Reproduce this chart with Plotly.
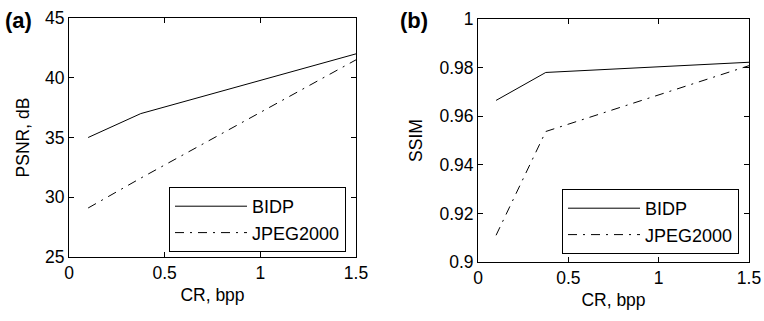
import plotly.graph_objects as go

cr = [0.1, 0.375, 1.5]
psnr_bidp = [35.0, 37.0, 42.0]
psnr_jpeg = [29.1, 31.6, 41.5]
ssim_bidp = [0.9665, 0.978, 0.9822]
ssim_jpeg = [0.911, 0.9537, 0.9808]

W, H = 764, 321
FONT = "Liberation Sans, Arial, sans-serif"
DASH = "9px,6px,2px,6px"

fig = go.Figure()
fig.add_trace(go.Scatter(x=cr, y=psnr_bidp, mode="lines", name="BIDP",
                         line=dict(color="black", width=1), xaxis="x", yaxis="y", legend="legend"))
fig.add_trace(go.Scatter(x=cr, y=psnr_jpeg, mode="lines", name="JPEG2000",
                         line=dict(color="black", width=1, dash=DASH), xaxis="x", yaxis="y", legend="legend"))
fig.add_trace(go.Scatter(x=cr, y=ssim_bidp, mode="lines", name="BIDP",
                         line=dict(color="black", width=1), xaxis="x2", yaxis="y2", legend="legend2"))
fig.add_trace(go.Scatter(x=cr, y=ssim_jpeg, mode="lines", name="JPEG2000",
                         line=dict(color="black", width=1, dash=DASH), xaxis="x2", yaxis="y2", legend="legend2"))

FS = 17.5
axcommon = dict(showline=True, linecolor="black", linewidth=1, mirror="ticks", ticks="inside",
                ticklen=5, tickcolor="black", showgrid=False, zeroline=False, automargin=False,
                tickfont=dict(family=FONT, size=FS, color="black"))

def px(x):
    return x / W

def py(y):
    return 1 - y / H

legcommon = dict(xanchor="left", yanchor="top", bgcolor="white", bordercolor="black", borderwidth=1,
                 font=dict(family=FONT, size=18, color="black"), tracegroupgap=0, itemwidth=72)

fig.update_layout(
    width=W, height=H, margin=dict(l=0, r=0, t=0, b=0, autoexpand=False),
    paper_bgcolor="white", plot_bgcolor="white",
    font=dict(family=FONT, color="black"),
    xaxis=dict(domain=[px(69), px(356)], range=[0, 1.5], tickvals=[0, 0.5, 1, 1.5],
               ticktext=["0", "0.5", "1", "1.5"], anchor="y",
               title=dict(text="CR, bpp", font=dict(size=FS), standoff=6), **axcommon),
    yaxis=dict(domain=[py(257), py(18)], range=[25, 45], tickvals=[25, 30, 35, 40, 45], anchor="x",
               title=dict(text="PSNR, dB", font=dict(size=FS), standoff=10), **axcommon),
    xaxis2=dict(domain=[px(478), px(749)], range=[0, 1.5], tickvals=[0, 0.5, 1, 1.5],
                ticktext=["0", "0.5", "1", "1.5"], anchor="y2",
                title=dict(text="CR, bpp", font=dict(size=FS), standoff=6), **axcommon),
    yaxis2=dict(domain=[py(262), py(19)], range=[0.9, 1.0], tickvals=[0.9, 0.92, 0.94, 0.96, 0.98, 1.0],
                ticktext=["0.9", "0.92", "0.94", "0.96", "0.98", "1"], anchor="x2",
                title=dict(text="SSIM", font=dict(size=FS), standoff=12), **axcommon),
    legend=dict(x=px(169), y=py(187), **legcommon),
    legend2=dict(x=px(562), y=py(189), **legcommon),
    annotations=[
        dict(text="<b>(a)</b>", x=px(3), y=py(20), xref="paper", yref="paper", xanchor="left",
             yanchor="middle", showarrow=False, font=dict(family=FONT, size=22, color="black")),
        dict(text="<b>(b)</b>", x=px(398), y=py(20), xref="paper", yref="paper", xanchor="left",
             yanchor="middle", showarrow=False, font=dict(family=FONT, size=22, color="black")),
    ],
)

fig.write_html("out.html", config={"displayModeBar": False},
               post_script="document.body.style.margin='0';")
